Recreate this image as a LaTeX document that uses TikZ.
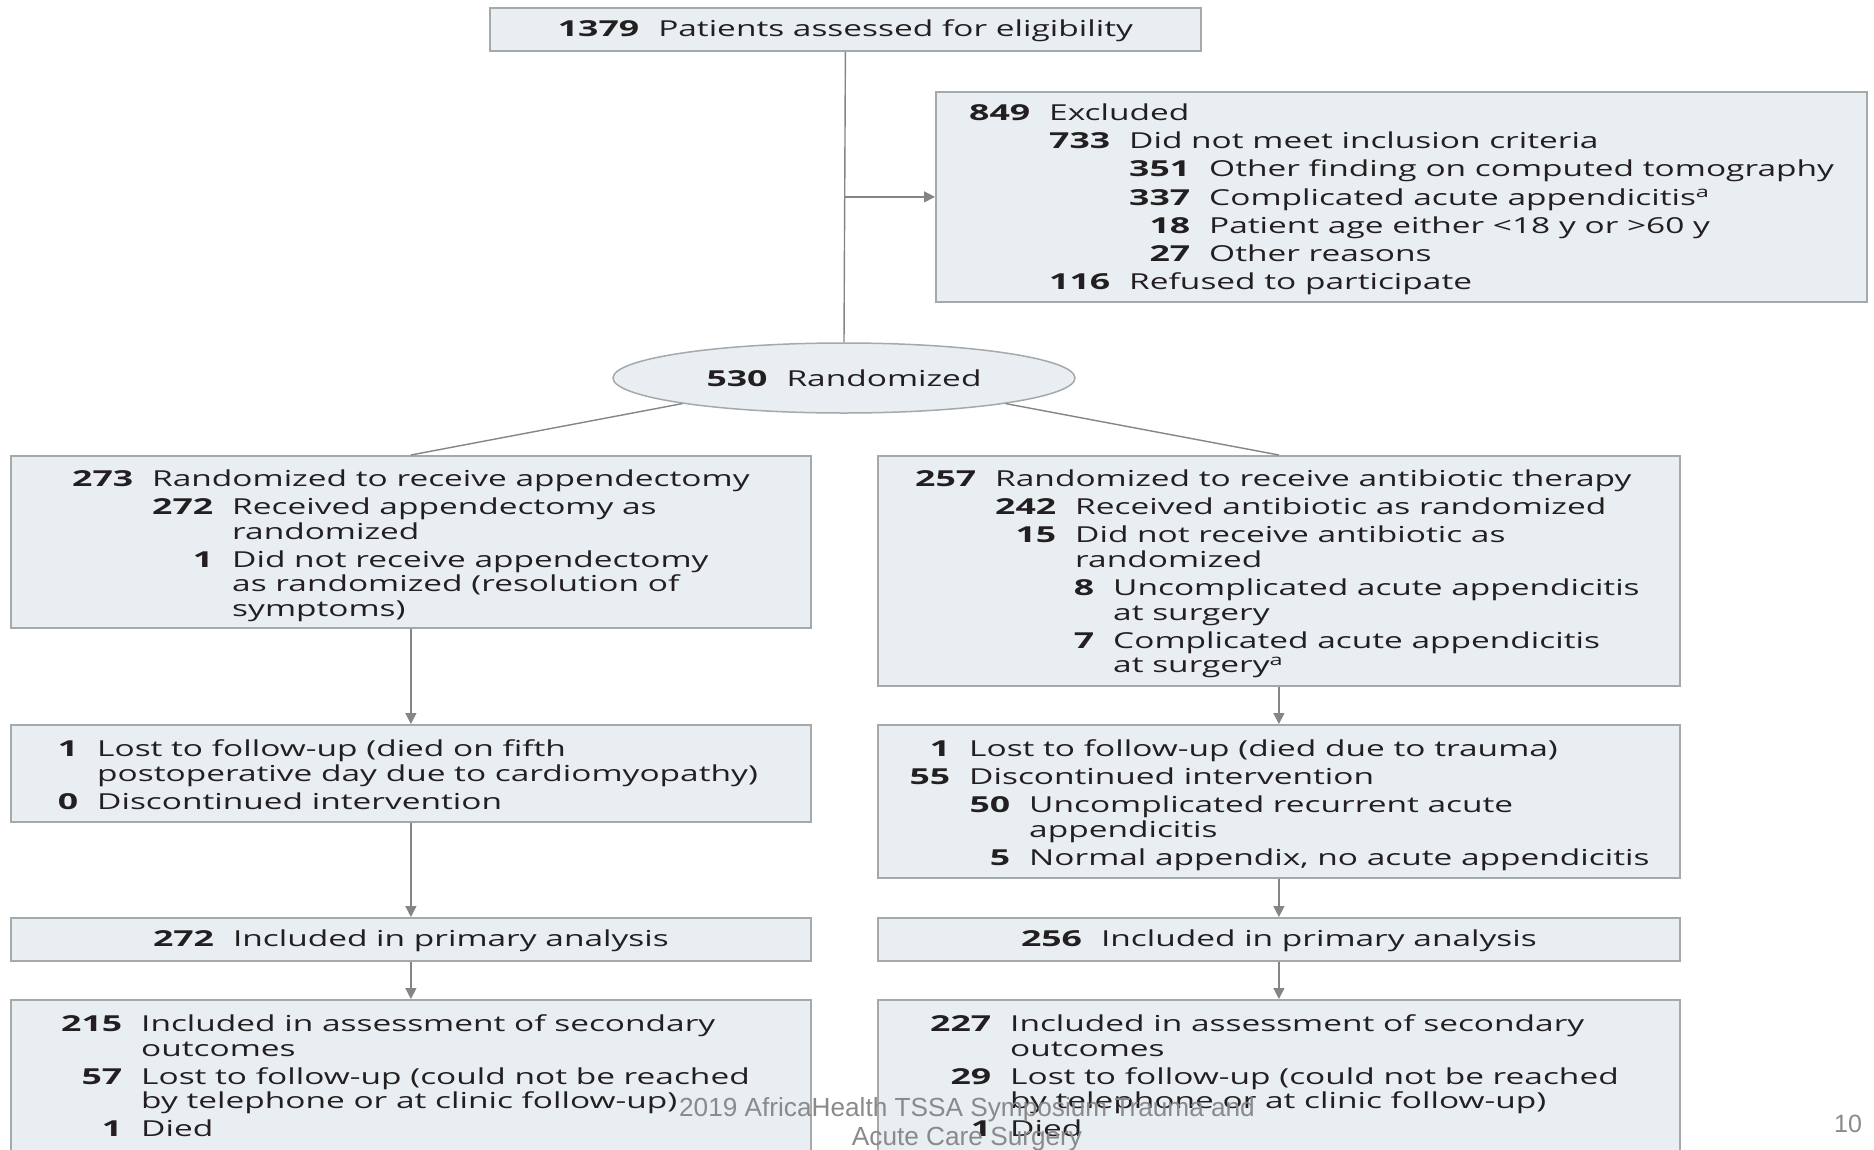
\documentclass[tikz,border=0pt]{standalone}
\usepackage{fontspec}
\setmainfont{Open Sans}[UprightFeatures={FakeStretch=1.52},BoldFeatures={FakeStretch=1.62}]
\newfontfamily\footfont{Liberation Sans}
\usetikzlibrary{shapes.geometric,arrows.meta}
\definecolor{boxfill}{HTML}{E8EEF2}
\definecolor{boxdraw}{HTML}{A4A9AC}
\definecolor{txt}{HTML}{231F20}
\definecolor{lin}{HTML}{858585}
\definecolor{foot}{HTML}{8A8A8A}
\newlength\gapw \setlength\gapw{19pt}
\newcommand\itm[3]{\hspace*{#1}\makebox[0pt][r]{\bfseries #2}\hspace*{\gapw}#3}
\newcommand\cnt[2]{\hspace*{\dimexpr#1+\gapw\relax}#2}
\newcommand\fr{\rule{0pt}{20pt}}
\begin{document}
\begin{tikzpicture}[x=1pt,y=-1pt,
  box/.style={draw=boxdraw,fill=boxfill,line width=1.8pt,rectangle,inner sep=0pt,anchor=north west,
    text=txt,font=\fontsize{22}{24.5}\selectfont},
  ctext/.style={text height=17pt,text depth=2pt},
  ell/.style={draw=boxdraw,fill=boxfill,line width=1.5pt,ellipse,inner sep=0pt,
    minimum width=462pt,minimum height=70pt,text=txt,font=\fontsize{22}{24.5}\selectfont},
  body/.style={anchor=north west,inner sep=0pt,align=left,text=txt,font=\fontsize{22}{24.5}\selectfont},
  conn/.style={draw=lin,line width=1.4pt},
  arr/.style={conn,-{Triangle[length=11pt,width=11pt]}},
]
\useasboundingbox (0,0) rectangle (1874,1149);
\clip (0,0) rectangle (1874,1149);
\fill[white] (0,0) rectangle (1874,1149);
\def\ie{3.6pt}
% boxes
\node[box,ctext,minimum width=711pt,minimum height=43pt] (top) at (489,7) {\textbf{1379}\hspace{\gapw}Patients assessed for eligibility};
\node[box,minimum width=931pt,minimum height=210pt] (exc) at (935,91) {};
\node[ell] (ell) at (844,378) {\textbf{530}\hspace{\gapw}Randomized};
\node[box,minimum width=800pt,minimum height=172pt] (L1) at (10,455) {};
\node[box,minimum width=802pt,minimum height=230pt] (R1) at (877,455) {};
\node[box,minimum width=800pt,minimum height=97pt] (L2) at (10,724) {};
\node[box,minimum width=802pt,minimum height=153pt] (R2) at (877,724) {};
\node[box,ctext,minimum width=800pt,minimum height=43pt] (L3) at (10,917) {\textbf{272}\hspace{\gapw}Included in primary analysis};
\node[box,ctext,minimum width=802pt,minimum height=43pt] (R3) at (877,917) {\textbf{256}\hspace{\gapw}Included in primary analysis};
\node[box,minimum width=800pt,minimum height=170pt] (L4) at (10,999) {};
\node[box,minimum width=802pt,minimum height=170pt] (R4) at (877,999) {};
% box texts
\node[body] (excT) at (1030,100.5) {\fr\itm{0pt}{849}{Excluded}\\[\ie]
\itm{80pt}{733}{Did not meet inclusion criteria}\\[\ie]
\itm{160pt}{351}{Other finding on computed tomography}\\[\ie]
\itm{160pt}{337}{Complicated acute appendicitis\textsuperscript{a}}\\[\ie]
\itm{160pt}{18}{Patient age either <18 y or >60 y}\\[\ie]
\itm{160pt}{27}{Other reasons}\\[\ie]
\itm{80pt}{116}{Refused to participate}};
\node[body] (L1T) at (133,466.5) {\fr\itm{0pt}{273}{Randomized to receive appendectomy}\\[\ie]
\itm{80pt}{272}{Received appendectomy as}\\
\cnt{80pt}{randomized}\\[\ie]
\itm{80pt}{1}{Did not receive appendectomy}\\
\cnt{80pt}{as randomized (resolution of}\\
\cnt{80pt}{symptoms)}};
\node[body] (R1T) at (976,466.5) {\fr\itm{0pt}{257}{Randomized to receive antibiotic therapy}\\[\ie]
\itm{80pt}{242}{Received antibiotic as randomized}\\[\ie]
\itm{80pt}{15}{Did not receive antibiotic as}\\
\cnt{80pt}{randomized}\\[\ie]
\itm{118pt}{8}{Uncomplicated acute appendicitis}\\
\cnt{118pt}{at surgery}\\[\ie]
\itm{118pt}{7}{Complicated acute appendicitis}\\
\cnt{118pt}{at surgery\textsuperscript{a}}};
\node[body] (L2T) at (78,736.5) {\fr\itm{0pt}{1}{Lost to follow-up (died on fifth}\\
\cnt{0pt}{postoperative day due to cardiomyopathy)}\\[\ie]
\itm{0pt}{0}{Discontinued intervention}};
\node[body] (R2T) at (950,736.5) {\fr\itm{0pt}{1}{Lost to follow-up (died due to trauma)}\\[\ie]
\itm{0pt}{55}{Discontinued intervention}\\[\ie]
\itm{60pt}{50}{Uncomplicated recurrent acute}\\
\cnt{60pt}{appendicitis}\\[\ie]
\itm{60pt}{5}{Normal appendix, no acute appendicitis}};
\node[body] (L4T) at (122,1011.5) {\fr\itm{0pt}{215}{Included in assessment of secondary}\\
\cnt{0pt}{outcomes}\\[\ie]
\itm{0pt}{57}{Lost to follow-up (could not be reached}\\
\cnt{0pt}{by telephone or at clinic follow-up)}\\[\ie]
\itm{0pt}{1}{Died}};
\node[body] (R4T) at (991,1011.5) {\fr\itm{0pt}{227}{Included in assessment of secondary}\\
\cnt{0pt}{outcomes}\\[\ie]
\itm{0pt}{29}{Lost to follow-up (could not be reached}\\
\cnt{0pt}{by telephone or at clinic follow-up)}\\[\ie]
\itm{0pt}{1}{Died}};
% connectors
\draw[conn] (top.south) -- (ell.north);
\draw[arr] (top.south |- exc.west) -- (exc.west);
\draw[conn] (ell.189.4) -- (L1.north);
\draw[conn] (ell.-9.4) -- (R1.north);
\draw[arr] (L1.south) -- (L2.north);
\draw[arr] (L2.south) -- (L3.north);
\draw[arr] (L3.south) -- (L4.north);
\draw[arr] (R1.south) -- (R2.north);
\draw[arr] (R2.south) -- (R3.north);
\draw[arr] (R3.south) -- (R4.north);
% footer
\node[anchor=north,inner sep=0pt,align=center,text=foot,font=\footfont\fontsize{26.2}{29}\selectfont] (foot) at (967,1096)
  {\fr 2019 AfricaHealth TSSA Symposium Trauma and\\ Acute Care Surgery};
\node[anchor=base,inner sep=0pt,text=foot,font=\footfont\fontsize{25}{29}\selectfont] (pg) at (1848,1132) {10};
\end{tikzpicture}
\end{document}
